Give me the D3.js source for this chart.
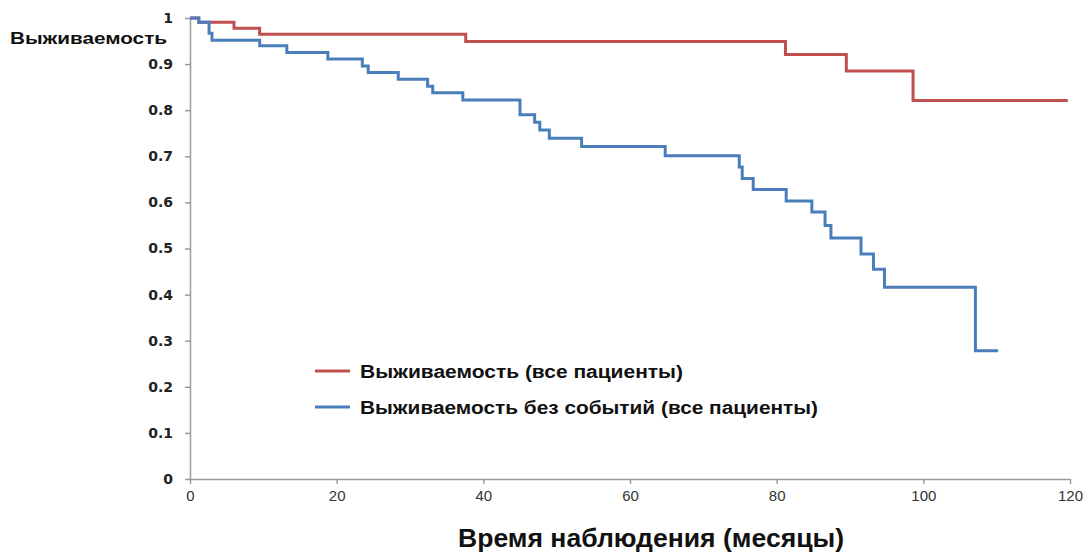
<!DOCTYPE html>
<html>
<head>
<meta charset="utf-8">
<script src="https://cdn.jsdelivr.net/npm/d3@7"></script>
<style>
  body { margin: 0; background: #fff; }
  .axis path, .axis line { stroke: #9a9a9a; stroke-width: 1.5px; }
  .yAxis text { font-family: 'DejaVu Sans', sans-serif; font-weight: bold; font-size: 14px; fill: #222; }
  .xAxis text { font-family: 'Liberation Sans', Arial, sans-serif; font-size: 15px; fill: #333; }
</style>
</head>
<body>
<div id="viz"></div>
<script>
// data
var redTimes  = [0, 1.2, 6, 9.5, 37.6, 81.2, 89.5, 98.6, 119.7];
var redValues = [1, 0.991, 0.978, 0.965, 0.949, 0.921, 0.885, 0.821, 0.821];

var blueTimes  = [0, 1.2, 2.6, 3.0, 9.5, 13.2, 18.8, 23.5, 24.3, 28.4, 32.4, 33.1, 37.2, 45.0, 47.0, 47.7,
                  49.0, 53.4, 64.8, 74.9, 75.3, 76.8, 81.3, 84.8, 86.6, 87.4, 91.5, 93.2, 94.7, 107.1, 110.2];
var blueValues = [1, 0.991, 0.967, 0.952, 0.94, 0.925, 0.911, 0.896, 0.882, 0.867, 0.852, 0.838, 0.822, 0.790, 0.774, 0.757,
                  0.739, 0.721, 0.701, 0.677, 0.652, 0.628, 0.603, 0.579, 0.550, 0.523, 0.488, 0.455, 0.416, 0.278, 0.278];

var xTicks = [0, 20, 40, 60, 80, 100, 120];
var yTicks = [0, 0.1, 0.2, 0.3, 0.4, 0.5, 0.6, 0.7, 0.8, 0.9, 1];

var seriesNames = ['Выживаемость (все пациенты)', 'Выживаемость без событий (все пациенты)'];
var seriesColors = ['#c0504d', '#4a7ebb'];
var legendWidths = [323, 458];

var svg = d3.select('#viz').append('svg')
  .attr('width', 1091)
  .attr('height', 553);

// plot area
var x = d3.scaleLinear().domain([0, 120]).range([190, 1070]);
var y = d3.scaleLinear().domain([0, 1]).range([479, 18]);

// axes
svg.append('g')
  .attr('class', 'axis yAxis')
  .attr('transform', 'translate(190,0)')
  .call(d3.axisLeft(y).tickValues(yTicks).tickSize(5).tickSizeOuter(0).tickPadding(12)
    .tickFormat(function(d) { return d3.format('~g')(d); }));

svg.append('g')
  .attr('class', 'axis xAxis')
  .attr('transform', 'translate(0,479)')
  .call(d3.axisBottom(x).tickValues(xTicks).tickSize(5).tickSizeOuter(0).tickPadding(6));

// steps
var line = d3.line()
  .x(function(d) { return x(d[0]); })
  .y(function(d) { return y(d[1]); })
  .curve(d3.curveStepAfter);

var redData = d3.zip(redTimes, redValues);
var blueData = d3.zip(blueTimes, blueValues);

svg.append('path')
  .datum(redData)
  .attr('d', line)
  .attr('fill', 'none')
  .attr('stroke', seriesColors[0])
  .attr('stroke-width', 3);

svg.append('path')
  .datum(blueData)
  .attr('d', line)
  .attr('fill', 'none')
  .attr('stroke', seriesColors[1])
  .attr('stroke-width', 3);

// titles
svg.append('text')
  .attr('x', 10).attr('y', 44)
  .attr('font-family', 'Liberation Sans, Arial, sans-serif')
  .attr('font-weight', 'bold')
  .attr('font-size', 16)
  .attr('textLength', 157)
  .attr('lengthAdjust', 'spacingAndGlyphs')
  .attr('fill', '#111')
  .text('Выживаемость');

svg.append('text')
  .attr('x', 458).attr('y', 547)
  .attr('font-family', 'Liberation Sans, Arial, sans-serif')
  .attr('font-weight', 'bold')
  .attr('font-size', 26)
  .attr('textLength', 386)
  .attr('lengthAdjust', 'spacingAndGlyphs')
  .attr('fill', '#111')
  .text('Время наблюдения (месяцы)');

// legend
var legend = svg.append('g').attr('transform', 'translate(315,371)');
seriesNames.forEach(function(name, i) {
  var row = legend.append('g').attr('transform', 'translate(0,' + (i * 36) + ')');
  row.append('line')
    .attr('x1', 0).attr('x2', 35)
    .attr('stroke', seriesColors[i])
    .attr('stroke-width', 3);
  row.append('text')
    .attr('x', 45).attr('y', 6.5)
    .attr('font-family', 'Liberation Sans, Arial, sans-serif')
    .attr('font-weight', 'bold')
    .attr('font-size', 18)
    .attr('textLength', legendWidths[i])
    .attr('lengthAdjust', 'spacingAndGlyphs')
    .attr('fill', '#111')
    .text(name);
});
</script>
</body>
</html>
